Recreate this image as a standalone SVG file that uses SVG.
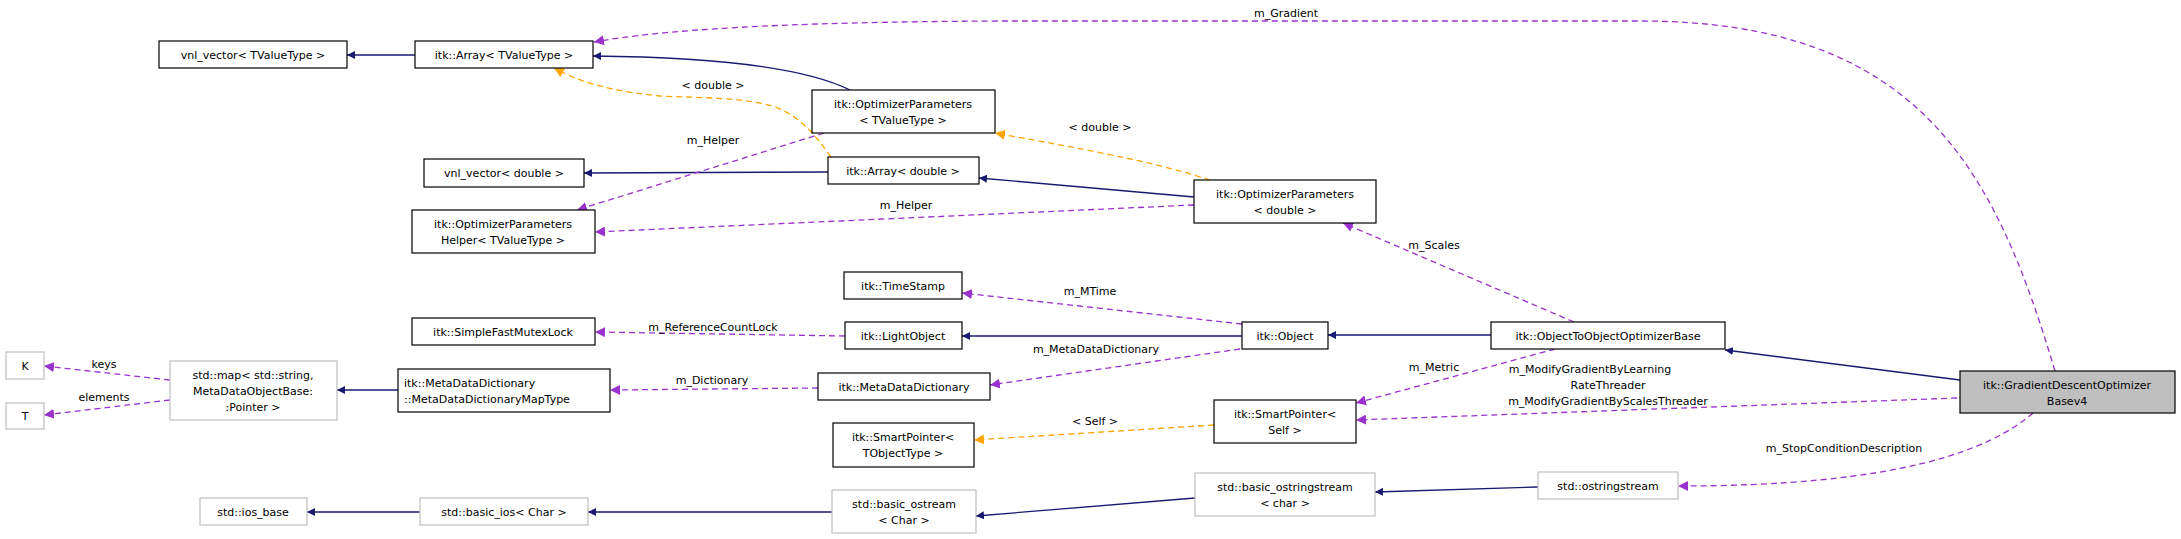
<svg xmlns="http://www.w3.org/2000/svg" width="2181" height="539" viewBox="0 0 2181 539">
<style>
text{font-family:"DejaVu Sans","Liberation Sans",sans-serif;font-size:11px;fill:#000;text-anchor:middle}
.n rect{fill:#fff;stroke:#000;stroke-width:1.2}
.g rect{fill:#fff;stroke:#bfbfbf;stroke-width:1.2}
.cur rect{fill:#bfbfbf;stroke:#000;stroke-width:1.2}
.inh{fill:none;stroke:#191970;stroke-width:1.3;marker-end:url(#an)}
.use{fill:none;stroke:#9a32cd;stroke-width:1.3;stroke-dasharray:6,4;marker-end:url(#ap)}
.tpl{fill:none;stroke:#ffa500;stroke-width:1.3;stroke-dasharray:6,4;marker-end:url(#ao)}
</style>
<defs>
<marker id="an" viewBox="0 0 10 10" refX="10" refY="5" markerWidth="8" markerHeight="8" markerUnits="userSpaceOnUse" orient="auto"><path d="M0,0L10,5L0,10z" fill="#191970"/></marker>
<marker id="ap" viewBox="0 0 10 10" refX="10" refY="5" markerWidth="10" markerHeight="10" markerUnits="userSpaceOnUse" orient="auto"><path d="M0,0L10,5L0,10z" fill="#9a32cd"/></marker>
<marker id="ao" viewBox="0 0 10 10" refX="10" refY="5" markerWidth="10" markerHeight="10" markerUnits="userSpaceOnUse" orient="auto"><path d="M0,0L10,5L0,10z" fill="#ffa500"/></marker>
</defs>
<rect width="2181" height="539" fill="#fff"/>
<g id="connectors">
<path class="inh" d="M415,55L347,55"/>
<path class="inh" d="M850,90C800,65 700,57 593,56"/>
<path class="inh" d="M828,172L584,173"/>
<path class="inh" d="M1194,197L979,178"/>
<path class="tpl" d="M1210,180C1150,160 1060,145 995,133"/>
<path class="tpl" d="M831,157C815,135 800,115 772,106C740,97 700,98 660,96C620,92 585,85 554,68"/>
<path class="use" d="M824,133L577,210"/>
<path class="use" d="M1194,205L595,232"/>
<path class="use" d="M2055,371C1995,170 1920,21 1640,21L1000,21C780,22 660,30 594,42"/>
<path class="use" d="M1574,322L1343,223"/>
<path class="inh" d="M1491,335L1328,335"/>
<path class="inh" d="M1242,336L962,336"/>
<path class="use" d="M1242,324L962,293"/>
<path class="use" d="M845,336L595,332"/>
<path class="use" d="M1240,349L990,385"/>
<path class="use" d="M818,388L610,390"/>
<path class="inh" d="M398,390L337,390"/>
<path class="use" d="M170,380L44,366"/>
<path class="use" d="M170,400L44,415"/>
<path class="inh" d="M1960,380L1725,350"/>
<path class="use" d="M1555,349L1356,403"/>
<path class="use" d="M1957,398L1356,420"/>
<path class="tpl" d="M1214,425L974,440"/>
<path class="use" d="M2033,413C1990,450 1900,486 1678,486"/>
<path class="inh" d="M1538,487L1375,492"/>
<path class="inh" d="M1195,498L976,516"/>
<path class="inh" d="M832,512L588,512"/>
<path class="inh" d="M420,512L307,512"/>
<text x="1286" y="17">m_Gradient</text>
<text x="713" y="89">&lt; double &gt;</text>
<text x="713" y="144">m_Helper</text>
<text x="1100" y="131">&lt; double &gt;</text>
<text x="906" y="209">m_Helper</text>
<text x="1434" y="249">m_Scales</text>
<text x="1090" y="295">m_MTime</text>
<text x="713" y="331">m_ReferenceCountLock</text>
<text x="1096" y="353">m_MetaDataDictionary</text>
<text x="712" y="384">m_Dictionary</text>
<text x="104" y="368">keys</text>
<text x="104" y="401">elements</text>
<text x="1434" y="371">m_Metric</text>
<text x="1590" y="373">m_ModifyGradientByLearning</text>
<text x="1608" y="389">RateThreader</text>
<text x="1608" y="405">m_ModifyGradientByScalesThreader</text>
<text x="1095" y="425">&lt; Self &gt;</text>
<text x="1844" y="452">m_StopConditionDescription</text>
</g>
<g id="vnlT" class="n"><rect x="159" y="41" width="188" height="27"/><text x="253" y="59">vnl_vector&lt; TValueType &gt;</text></g>
<g id="arrT" class="n"><rect x="415" y="41" width="178" height="27"/><text x="504" y="59">itk::Array&lt; TValueType &gt;</text></g>
<g id="optT" class="n"><rect x="812" y="90" width="183" height="43"/><text x="903" y="108">itk::OptimizerParameters</text><text x="903" y="124">&lt; TValueType &gt;</text></g>
<g id="vnlD" class="n"><rect x="424" y="159" width="160" height="28"/><text x="504" y="177">vnl_vector&lt; double &gt;</text></g>
<g id="arrD" class="n"><rect x="828" y="157" width="151" height="27"/><text x="903" y="175">itk::Array&lt; double &gt;</text></g>
<g id="helper" class="n"><rect x="412" y="210" width="183" height="43"/><text x="503" y="228">itk::OptimizerParameters</text><text x="503" y="244">Helper&lt; TValueType &gt;</text></g>
<g id="optD" class="n"><rect x="1194" y="180" width="182" height="43"/><text x="1285" y="198">itk::OptimizerParameters</text><text x="1285" y="214">&lt; double &gt;</text></g>
<g id="timestamp" class="n"><rect x="844" y="272" width="118" height="27"/><text x="903" y="290">itk::TimeStamp</text></g>
<g id="mutex" class="n"><rect x="412" y="318" width="183" height="27"/><text x="503" y="336">itk::SimpleFastMutexLock</text></g>
<g id="light" class="n"><rect x="845" y="322" width="117" height="27"/><text x="903" y="340">itk::LightObject</text></g>
<g id="object" class="n"><rect x="1242" y="322" width="86" height="27"/><text x="1285" y="340">itk::Object</text></g>
<g id="o2o" class="n"><rect x="1491" y="322" width="234" height="27"/><text x="1608" y="340">itk::ObjectToObjectOptimizerBase</text></g>
<g id="gd" class="cur"><rect x="1960" y="371" width="215" height="42"/><text x="2067" y="389">itk::GradientDescentOptimizer</text><text x="2067" y="405">Basev4</text></g>
<g id="K" class="g"><rect x="6" y="352" width="38" height="27"/><text x="25" y="370">K</text></g>
<g id="T" class="g"><rect x="6" y="403" width="38" height="26"/><text x="25" y="420">T</text></g>
<g id="stdmap" class="g"><rect x="170" y="361" width="167" height="59"/><text x="253" y="379">std::map&lt; std::string,</text><text x="253" y="395">MetaDataObjectBase:</text><text x="253" y="411">:Pointer &gt;</text></g>
<g id="maptype" class="n"><rect x="398" y="369" width="212" height="43"/><text x="404" y="387" style="text-anchor:start">itk::MetaDataDictionary</text><text x="404" y="403" style="text-anchor:start">::MetaDataDictionaryMapType</text></g>
<g id="mdd" class="n"><rect x="818" y="373" width="172" height="27"/><text x="904" y="391">itk::MetaDataDictionary</text></g>
<g id="spSelf" class="n"><rect x="1214" y="400" width="142" height="43"/><text x="1285" y="418">itk::SmartPointer&lt;</text><text x="1285" y="434">Self &gt;</text></g>
<g id="spT" class="n"><rect x="833" y="423" width="141" height="44"/><text x="903" y="441">itk::SmartPointer&lt;</text><text x="903" y="457">TObjectType &gt;</text></g>
<g id="iosbase" class="g"><rect x="200" y="498" width="107" height="27"/><text x="253" y="516">std::ios_base</text></g>
<g id="basicios" class="g"><rect x="420" y="498" width="168" height="27"/><text x="504" y="516">std::basic_ios&lt; Char &gt;</text></g>
<g id="ostream" class="g"><rect x="832" y="490" width="144" height="43"/><text x="904" y="508">std::basic_ostream</text><text x="904" y="524">&lt; Char &gt;</text></g>
<g id="bostr" class="g"><rect x="1195" y="473" width="180" height="43"/><text x="1285" y="491">std::basic_ostringstream</text><text x="1285" y="507">&lt; char &gt;</text></g>
<g id="ostr" class="g"><rect x="1538" y="472" width="140" height="27"/><text x="1608" y="490">std::ostringstream</text></g>
</svg>
